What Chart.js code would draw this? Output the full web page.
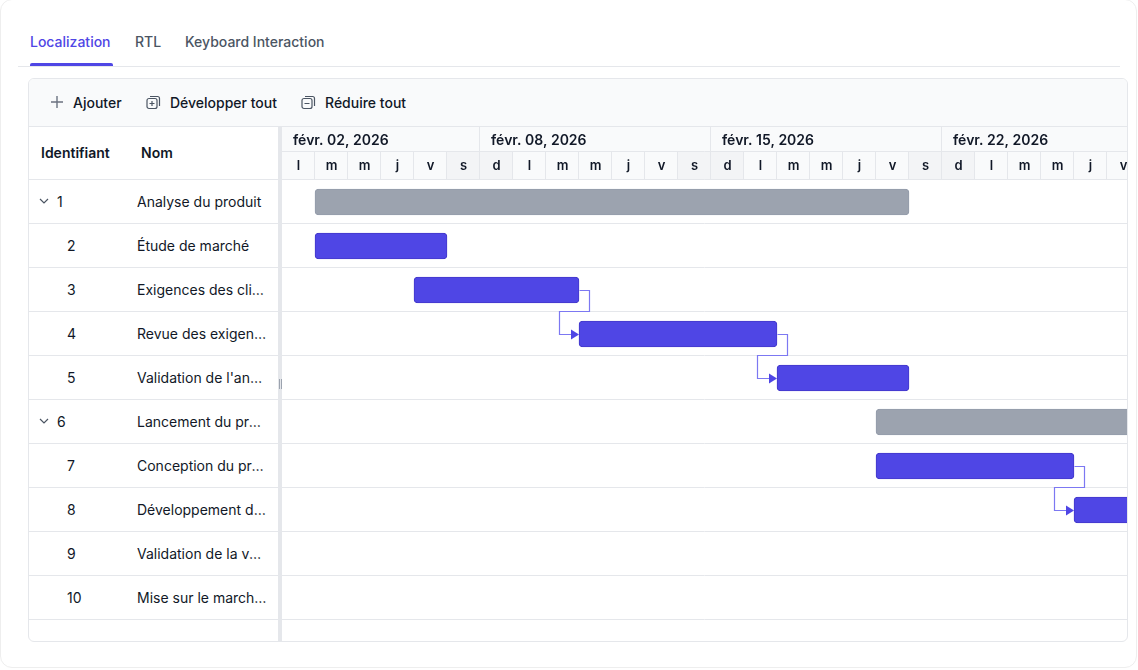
<!DOCTYPE html>
<html><head><meta charset="utf-8">
<script src="https://cdn.jsdelivr.net/npm/chart.js@4.4.1/dist/chart.umd.min.js"></script>
<style>
html,body{margin:0;padding:0}
body{width:1138px;height:670px;overflow:hidden;background:#fff;font-family:Inter,"Noto Sans",sans-serif;color:#111827;position:relative}
.card{position:absolute;left:0;top:-1px;width:1137px;height:669px;box-sizing:border-box;border:1px solid #eeeeee;border-radius:12px}
.tabsep{position:absolute;left:18px;top:66px;width:1102px;height:1px;background:#e5e7eb}
.tab{position:absolute;top:33px;font-size:14px;font-weight:500;color:#4b5563;line-height:18px;white-space:nowrap}
.tab.active{color:#4f46e5}
.uline{position:absolute;left:30px;top:63px;width:83px;height:3px;border-radius:2px 2px 0 0;background:#4f46e5}
.gantt{position:absolute;left:28px;top:78px;width:1100px;height:564px;box-sizing:border-box;border:1px solid #e5e7eb;border-radius:6px;overflow:hidden;background:#fff}
.toolbar{position:absolute;left:0;top:0;width:100%;height:47px;background:#f9fafb;border-bottom:1px solid #e5e7eb}
.tb{position:absolute;top:15px;font-size:14px;font-weight:500;line-height:18px;white-space:nowrap;color:#111827}
.tb svg{position:absolute;top:1px}
.left{position:absolute;left:0;top:48px;width:249px;height:514px}
.lh{position:absolute;left:0;top:0;width:249px;height:52px;border-bottom:1px solid #e5e7eb;font-size:14px;font-weight:600}
.lh span{position:absolute;top:17px;line-height:18px}
.row{position:relative;height:43px;border-bottom:1px solid #e5e7eb;font-size:14px}
.row .id{position:absolute;top:13px;line-height:18px}
.row .nm{position:absolute;left:108px;top:13px;width:131px;line-height:18px;white-space:nowrap;overflow:hidden;text-overflow:ellipsis}
.row svg{position:absolute;left:10px;top:17px}
.rows{position:absolute;left:0;top:53px;width:249px}
.split{position:absolute;left:249px;top:48px;width:4px;height:514px;background:#e5e7eb}
.grip{position:absolute;top:252px;width:1px;height:10px;background:#9ca3af}
#wrap{position:absolute;left:253px;top:48px;width:845px;height:514px}
</style></head>
<body>
<div class="card"></div>
<div class="tab active" style="left:30px">Localization</div>
<div class="tab" style="left:135px">RTL</div>
<div class="tab" style="left:185px">Keyboard Interaction</div>
<div class="tabsep"></div>
<div class="uline"></div>

<div class="gantt">
  <div class="toolbar">
    <div class="tb" style="left:21px"><svg width="14" height="14" viewBox="0 0 14 14" style="left:0"><path d="M7 1v12M1 7h12" stroke="#6b7280" stroke-width="1.4" fill="none"/></svg><span style="position:absolute;left:23px">Ajouter</span></div>
    <div class="tb" style="left:117px"><svg width="15" height="15" viewBox="0 0 15 15" style="left:0"><rect x="1" y="3.5" width="10" height="10" rx="2" stroke="#4b5563" stroke-width="1.2" fill="none"/><path d="M4 1.5h7.5a2 2 0 0 1 2 2V11" stroke="#4b5563" stroke-width="1.2" fill="none"/><path d="M6 6v5M3.5 8.5h5" stroke="#4b5563" stroke-width="1.2"/></svg><span style="position:absolute;left:24px">Développer tout</span></div>
    <div class="tb" style="left:272px"><svg width="15" height="15" viewBox="0 0 15 15" style="left:0"><rect x="1" y="3.5" width="10" height="10" rx="2" stroke="#4b5563" stroke-width="1.2" fill="none"/><path d="M4 1.5h7.5a2 2 0 0 1 2 2V11" stroke="#4b5563" stroke-width="1.2" fill="none"/><path d="M3.5 8.5h5" stroke="#4b5563" stroke-width="1.2"/></svg><span style="position:absolute;left:24px">Réduire tout</span></div>
  </div>
  <div class="left">
    <div class="lh"><span style="left:12px">Identifiant</span><span style="left:112px">Nom</span></div>
    <div class="rows" id="rows"></div>
  </div>
  <div class="split"><div class="grip" style="left:1px"></div><div class="grip" style="left:3px"></div></div>
  <div id="wrap"><canvas id="c"></canvas></div>
</div>

<script>
// ---- data ----
const taskIds = ['1','2','3','4','5','6','7','8','9','10'];
const taskNames = ['Analyse du produit','Étude de marché','Exigences des clients','Revue des exigences','Validation de l\'analyse','Lancement du produit','Conception du produit','Développement du produit','Validation de la version','Mise sur le marché du produit'];
const isParent = [true,false,false,false,false,true,false,false,false,false];
// day offsets from févr. 02, 2026
const taskStart = [1,1,4,9,15,18,18,24,30,33];
const taskEnd   = [19,5,9,15,19,36,24,30,33,36];
const dependencies = [['3','4'],['4','5'],['7','8']];
const dayLabels = ['l','m','m','j','v','s','d','l','m','m','j','v','s','d','l','m','m','j','v','s','d','l','m','m','j','v'];
const weekendDays = [5,6,12,13,19,20];
const weekLabels = ['févr. 02, 2026','févr. 08, 2026','févr. 15, 2026','févr. 22, 2026'];
const weekStarts = [0,6,13,20];

// ---- left grid ----
const rowsEl = document.getElementById('rows');
taskIds.forEach((id,i)=>{
  const r = document.createElement('div'); r.className='row';
  if (isParent[i]) {
    r.innerHTML = '<svg width="10" height="8" viewBox="0 0 10 8"><path d="M1 2l4 4 4-4" stroke="#4b5563" stroke-width="1.2" fill="none"/></svg><span class="id" style="left:28px">'+id+'</span>';
  } else {
    r.innerHTML = '<span class="id" style="left:38px">'+id+'</span>';
  }
  const n = document.createElement('span'); n.className='nm'; n.textContent = taskNames[i];
  r.appendChild(n);
  rowsEl.appendChild(r);
});
const last = document.createElement('div'); last.className='row'; last.style.height='21px'; last.style.borderBottom='none';
rowsEl.appendChild(last);

// ---- chart ----
const HEADER_H = 53, WEEK_H = 25;
const FONT = 'Inter, "Noto Sans", sans-serif';
const ganttPlugin = {
  id:'gantt',
  beforeDatasetsDraw(chart){
    const {ctx, scales:{y}} = chart;
    ctx.save();
    ctx.strokeStyle = '#e5e7eb'; ctx.lineWidth = 1;
    const band = (y.getPixelForValue(1) - y.getPixelForValue(0));
    for (let i=0;i<taskIds.length;i++){
      const yy = Math.round(y.getPixelForValue(i) + band/2) - 0.5;
      ctx.beginPath(); ctx.moveTo(0,yy); ctx.lineTo(chart.width,yy); ctx.stroke();
    }
    ctx.restore();
  },
  afterDatasetsDraw(chart){
    const {ctx, scales:{y}} = chart;
    const meta = chart.getDatasetMeta(0);
    const band = (y.getPixelForValue(1) - y.getPixelForValue(0));
    ctx.save();
    ctx.beginPath(); ctx.rect(chart.chartArea.left, chart.chartArea.top, chart.chartArea.width, chart.chartArea.height); ctx.clip();
    dependencies.forEach(([from,to])=>{
      const a = meta.data[taskIds.indexOf(from)], b = meta.data[taskIds.indexOf(to)];
      const x1 = Math.round(a.x)+0.5, y1 = Math.round(a.y)+0.5;
      const x2 = Math.round(b.base), y2 = Math.round(b.y)+0.5;
      const mid = Math.round(a.y + band/2) - 0.5;
      ctx.strokeStyle = '#7c78f2'; ctx.lineWidth = 1.2;
      ctx.beginPath();
      ctx.moveTo(x1,y1); ctx.lineTo(x1+10,y1); ctx.lineTo(x1+10,mid);
      ctx.lineTo(x2-20+0.5,mid); ctx.lineTo(x2-20+0.5,y2); ctx.lineTo(x2-6,y2);
      ctx.stroke();
      ctx.fillStyle = '#4f46e5';
      ctx.beginPath(); ctx.moveTo(x2-8,y2-5); ctx.lineTo(x2,y2); ctx.lineTo(x2-8,y2+5); ctx.closePath(); ctx.fill();
    });
    ctx.restore();
  },
  afterDraw(chart){
    const {ctx, scales:{x}} = chart;
    ctx.save();
    ctx.fillStyle = '#f9fafb'; ctx.fillRect(0,0,chart.width,HEADER_H);
    ctx.fillStyle = '#f3f4f6';
    weekendDays.forEach(d=>{
      const a = x.getPixelForValue(d), b = x.getPixelForValue(d+1);
      ctx.fillRect(a, WEEK_H, b-a, HEADER_H-WEEK_H);
    });
    ctx.strokeStyle = '#e5e7eb'; ctx.lineWidth = 1;
    [WEEK_H, HEADER_H].forEach(yy=>{ctx.beginPath();ctx.moveTo(0,yy-0.5);ctx.lineTo(chart.width,yy-0.5);ctx.stroke();});
    ctx.font = '600 13px '+FONT; ctx.textAlign='center'; ctx.textBaseline='middle';
    dayLabels.forEach((lab,d)=>{
      const a = x.getPixelForValue(d), b = x.getPixelForValue(d+1);
      ctx.strokeStyle='#e5e7eb';
      ctx.beginPath(); ctx.moveTo(Math.round(b)-0.5,WEEK_H); ctx.lineTo(Math.round(b)-0.5,HEADER_H); ctx.stroke();
      ctx.fillStyle='#111827';
      ctx.fillText(lab,(a+b)/2,WEEK_H+(HEADER_H-WEEK_H)/2);
    });
    ctx.font = '600 14px '+FONT; ctx.textAlign='left';
    weekLabels.forEach((lab,i)=>{
      const a = x.getPixelForValue(weekStarts[i]);
      if (i>0){ctx.beginPath(); ctx.moveTo(Math.round(a)-0.5,0); ctx.lineTo(Math.round(a)-0.5,WEEK_H); ctx.stroke();}
      ctx.fillStyle='#111827';
      ctx.fillText(lab, a+11, 14);
    });
    ctx.restore();
  }
};

new Chart(document.getElementById('c'), {
  type:'bar',
  data:{
    labels: taskIds,
    datasets:[{
      data: taskIds.map((_,i)=>[taskStart[i], taskEnd[i]]),
      backgroundColor: isParent.map(p=>p?'#9ca3af':'#4f46e5'),
      borderColor: isParent.map(p=>p?'#949cab':'#4338ca'),
      borderWidth: 1,
      borderRadius: 4,
      borderSkipped: false,
      barThickness: 26
    }]
  },
  options:{
    indexAxis:'y',
    responsive:true, maintainAspectRatio:false, animation:false,
    layout:{padding:{top:HEADER_H,bottom:21,left:0,right:0}},
    plugins:{legend:{display:false},tooltip:{enabled:false}},
    scales:{
      x:{type:'linear',min:0,max:845/33,display:false},
      y:{type:'category',display:false,offset:true}
    }
  },
  plugins:[ganttPlugin]
});
</script>
</body></html>
